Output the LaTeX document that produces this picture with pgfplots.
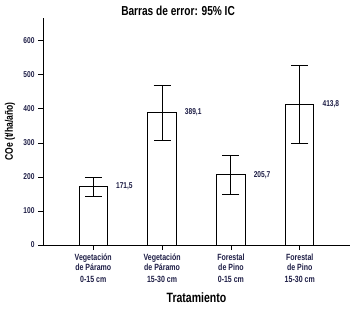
\documentclass[border=0pt]{standalone}
\usepackage{fontspec}
\setmainfont{Liberation Sans}[FakeStretch=0.78]
\usepackage{pgfplots}
\usepackage{pgfplotstable}
\pgfplotsset{compat=1.18}
\definecolor{txt}{RGB}{30,30,70}
\pgfplotstableread{
x y e
0 171.5 28
1 389.1 81
2 205.7 58
3 413.8 115
}\datatable
\begin{document}
\begin{tikzpicture}
\path[use as bounding box] (0,0) rectangle (358pt,311pt);
\begin{axis}[
 at={(43pt,66pt)}, anchor=south west,
 scale only axis, width=307pt, height=227pt,
 xmin=-0.73, xmax=3.73, ymin=0, ymax=667,
 axis x line*=bottom, axis y line*=left,
 axis line style={-, line width=1pt, black},
 /pgf/number format/assume math mode=true,
 ytick={0,100,...,600},
 xtick={0,1,2,3},
 xticklabels={{Vegetación\\de Páramo\\[2pt]0-15 cm},{Vegetación\\de Páramo\\[2pt]15-30 cm},{Forestal\\de Pino\\[2pt]0-15 cm},{Forestal\\de Pino\\[2pt]15-30 cm}},
 tick style={black, line width=0.8pt},
 major tick length=5pt, tick align=outside,
 xticklabel style={align=center, font=\bfseries\fontsize{9}{10}\selectfont, text=txt},
 yticklabel style={font=\bfseries\fontsize{8.5}{10}\selectfont, text=txt},
 xlabel={Tratamiento},
 ylabel={COe (t/ha/año)},
 xlabel style={at={(axis description cs:0.5,0)}, anchor=center, yshift=-53pt, font=\bfseries\fontsize{13.5}{15}\selectfont},
 ylabel style={at={(axis description cs:-0.1075,0.5)}, anchor=center, font=\bfseries\fontsize{11}{13}\selectfont},
 title={Barras de error: 95\% IC},
 title style={at={(axis description cs:0.44,1)}, anchor=center, yshift=1pt, font=\bfseries\fontsize{13}{15}\selectfont},
]
\addplot[ybar, bar width=28.4pt, fill=white, draw=black, line width=1pt,
 nodes near coords={\pgfmathprintnumber[fixed,fixed zerofill,precision=1,use comma]{\pgfplotspointmeta}},
 every node near coord/.append style={anchor=west, xshift=19pt, font=\bfseries\fontsize{8.5}{10}\selectfont, text=txt},
 error bars/.cd, y dir=both, y explicit,
 error bar style={line width=1pt, black},
 error mark=|,
 error mark options={black, mark size=8.5pt, line width=1pt}]
 table[x=x, y=y, y error=e] {\datatable};
\end{axis}
\end{tikzpicture}
\end{document}
